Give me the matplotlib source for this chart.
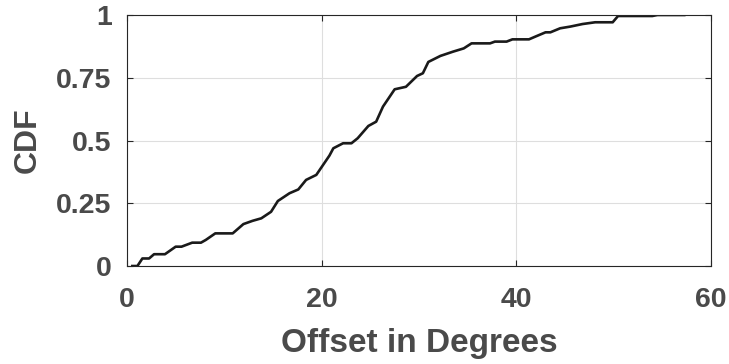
import matplotlib
matplotlib.use("Agg")
import matplotlib.pyplot as plt

# offset in degrees vs cumulative fraction
offset = [0.55, 1.07, 1.58, 2.27, 2.78, 3.9, 5.0, 5.6, 6.7, 7.6, 8.1, 9.07, 10.86,
          11.96, 12.9, 13.8, 14.8, 15.5, 16.7, 17.6, 18.4, 19.45, 20.8, 21.2, 22.2,
          23.06, 23.7, 24.8, 25.6, 26.3, 27.5, 28.66, 29.8, 30.4, 30.96, 32.2, 33.5,
          34.6, 35.4, 37.3, 37.8, 39.0, 39.6, 41.3, 41.96, 43.0, 43.5, 44.5, 45.57,
          46.8, 48.1, 49.9, 50.45, 53.97, 54.5, 57.25]
cdf = [0.0, 0.0, 0.03, 0.03, 0.047, 0.047, 0.077, 0.077, 0.093, 0.093, 0.104, 0.13, 0.13,
       0.167, 0.18, 0.19, 0.216, 0.259, 0.29, 0.305, 0.343, 0.363, 0.44, 0.469, 0.489,
       0.489, 0.509, 0.558, 0.575, 0.635, 0.704, 0.714, 0.757, 0.768, 0.813, 0.837, 0.854,
       0.867, 0.887, 0.887, 0.894, 0.894, 0.903, 0.903, 0.914, 0.931, 0.931, 0.947, 0.954,
       0.964, 0.971, 0.971, 0.996, 0.996, 1.0, 1.0]

xticks = [0, 20, 40, 60]
yticks = [0, 0.25, 0.5, 0.75, 1]
yticklabels = ["0", "0.25", "0.5", "0.75", "1"]

plt.rcParams['font.family'] = ['Liberation Sans', 'DejaVu Sans']
plt.rcParams['font.weight'] = 'bold'
gray = '#262626'
textgray = '#4a4a4a'

fig = plt.figure(figsize=(7.29, 3.64), dpi=100)
ax = fig.add_axes([0.1742, 0.2692, 0.8011, 0.6896])

ax.plot(offset, cdf, color='#1a1a1a', linewidth=1.9)

ax.set_xlim(0, 60)
ax.set_ylim(0, 1)
ax.set_xticks(xticks)
ax.set_yticks(yticks)
ax.set_yticklabels(yticklabels)
ax.grid(True, color='#dedede', linewidth=0.8)
ax.set_axisbelow(True)

ax.tick_params(direction='in', top=True, right=True, length=4, width=0.8,
               colors=gray, labelcolor=textgray, labelsize=20.5)
ax.tick_params(axis='x', pad=15)
ax.tick_params(axis='y', pad=11)
for s in ax.spines.values():
    s.set_color(gray)
    s.set_linewidth(0.8)

ax.set_xlabel("Offset in Degrees", fontsize=24, fontweight='bold', color=textgray, labelpad=11)
ax.set_ylabel("CDF", fontsize=23, fontweight='bold', color=textgray, labelpad=10)

fig.savefig("out.png", dpi=100)
